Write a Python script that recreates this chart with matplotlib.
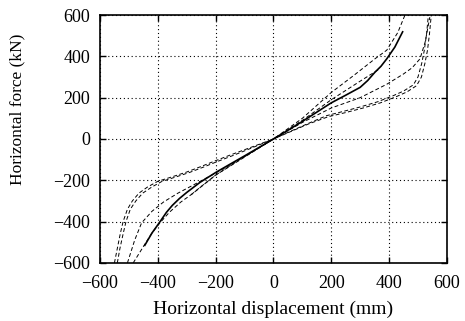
import matplotlib
matplotlib.use("Agg")
import matplotlib.pyplot as plt

plt.rcParams['font.family'] = ['Liberation Serif', 'DejaVu Serif']
plt.rcParams['font.size'] = 13

# test curve (solid)
solid_x = [-445, -420, -395, -370, -350, -325, -300, -254, -197, -150, -100, -50, 0, 50, 100, 150, 200, 250, 300, 326, 351, 372, 392, 420, 447]
solid_y = [-515, -455, -406, -355, -322, -288, -259, -210, -160, -122, -82, -41, 0, 42, 85, 130, 175, 212, 250, 283, 323, 352, 388, 445, 519]

# model curves (dashed)
g1_x = [-550, -540, -530, -520, -505, -488, -465, -435, -400, -350, -300, -250, -200, -150, -100, -50, 0,
        60, 120, 184, 240, 300, 360, 415, 450, 484, 500, 513, 522, 530, 536]
g1_y = [-600, -530, -460, -400, -340, -300, -262, -232, -205, -183, -160, -133, -105, -78, -52, -26, 0,
        38, 75, 113, 133, 155, 180, 210, 232, 262, 300, 366, 430, 511, 600]

g2_x = [-540, -531, -520, -510, -495, -476, -452, -420, -385, -340, -290, -240, -190, -140, -90, -45, 0,
        60, 120, 190, 250, 310, 370, 425, 462, 495, 512, 524, 533, 540, 546]
g2_y = [-600, -530, -460, -400, -340, -300, -262, -232, -205, -185, -162, -135, -107, -80, -52, -26, 0,
        36, 72, 108, 128, 150, 175, 205, 228, 258, 300, 366, 430, 511, 600]

e_x = [-505, -480, -456, -420, -380, -330, -280, -200, -100, 0, 100, 200, 280, 351, 392, 430, 455]
e_y = [-600, -490, -406, -350, -305, -262, -225, -165, -85, 0, 100, 225, 310, 388, 430, 515, 600]

f_x = [-485, -465, -445, -420, -395, -360, -320, -280, -200, -100, 0, 100, 200, 300, 392, 449, 480, 507, 525, 541]
f_y = [-600, -555, -510, -455, -410, -355, -305, -265, -175, -88, 0, 80, 150, 200, 265, 314, 345, 388, 470, 590]

h_x = [-285, -250, -200, -100, 0, 100, 200, 300, 368]
h_y = [-270, -230, -175, -85, 0, 90, 190, 280, 340]

ticks = [-600, -400, -200, 0, 200, 400, 600]

fig = plt.figure(figsize=(4.65, 3.21), dpi=100)
ax = fig.add_axes([0.215, 0.181, 0.746, 0.772])

for xs, ys in [(g1_x, g1_y), (g2_x, g2_y), (e_x, e_y), (f_x, f_y), (h_x, h_y)]:
    ax.plot(xs, ys, color='black', lw=0.7, ls=(0, (4, 2.5)))
ax.plot(solid_x, solid_y, color='black', lw=1.2)

ax.set_xlim(-600, 600)
ax.set_ylim(-600, 600)
ax.set_xticks(ticks)
ax.set_yticks(ticks)
ax.grid(True, color='black', ls=(0, (1, 2.5)), lw=0.8)
ax.tick_params(direction='in', top=True, right=True, length=4, width=1)
ax.tick_params(axis='x', pad=9)
ax.tick_params(axis='y', pad=7)
for s in ax.spines.values():
    s.set_linewidth(1.2)

ax.set_xlabel("Horizontal displacement (mm)", fontsize=14, labelpad=6)
ax.set_ylabel("Horizontal force (kN)", fontsize=12.5)
ax.yaxis.set_label_coords(-0.215, 0.62)

fig.savefig("out.png", dpi=100)
